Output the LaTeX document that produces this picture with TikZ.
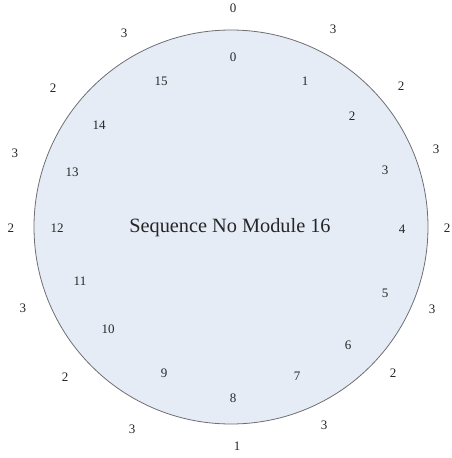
\documentclass[tikz,border=0pt]{standalone}
\usepackage{fontspec}
\setmainfont{Liberation Serif}
\definecolor{ringfill}{RGB}{230,236,246}
\definecolor{ringline}{RGB}{110,110,115}
\begin{document}
\begin{tikzpicture}[x=1pt,y=-1pt,
  num/.style={font=\fontsize{13}{13}\selectfont, text=black!85, inner sep=0pt},
  ring/.style={draw=ringline, fill=ringfill, line width=0.8pt}]
\useasboundingbox (0,0) rectangle (451,458);
\node[ring, circle, minimum size=394pt, inner sep=0pt] (c) at (231,227) {};
\node[font=\fontsize{20.3}{20}\selectfont, text=black!85] (title) at (230,228) {Sequence No Module 16};
% inner labels
\node[num] (i0) at (233,57) {0};
\node[num] (i1) at (305,81) {1};
\node[num] (i2) at (352,116) {2};
\node[num] (i3) at (385,170) {3};
\node[num] (i4) at (402,229) {4};
\node[num] (i5) at (385,293) {5};
\node[num] (i6) at (348,345) {6};
\node[num] (i7) at (297,376) {7};
\node[num] (i8) at (233,398) {8};
\node[num] (i9) at (164,373) {9};
\node[num] (i10) at (108,329) {10};
\node[num] (i11) at (80,281) {11};
\node[num] (i12) at (57,228) {12};
\node[num] (i13) at (72,172) {13};
\node[num] (i14) at (99,125) {14};
\node[num] (i15) at (161,81) {15};
% outer labels
\node[num] (o0) at (233,8) {0};
\node[num] (o1) at (333,29) {3};
\node[num] (o2) at (401,86) {2};
\node[num] (o3) at (436,149) {3};
\node[num, anchor=east] (o4) at (450.5,228) {2};
\node[num] (o5) at (432,309) {3};
\node[num] (o6) at (393,373) {2};
\node[num] (o7) at (324,425) {3};
\node[num] (o8) at (237,446) {1};
\node[num] (o9) at (132,429) {3};
\node[num] (o10) at (65,377) {2};
\node[num] (o11) at (23,308) {3};
\node[num] (o12) at (11,228) {2};
\node[num] (o13) at (15,153) {3};
\node[num] (o14) at (53,88) {2};
\node[num] (o15) at (124,33) {3};
\end{tikzpicture}
\end{document}
